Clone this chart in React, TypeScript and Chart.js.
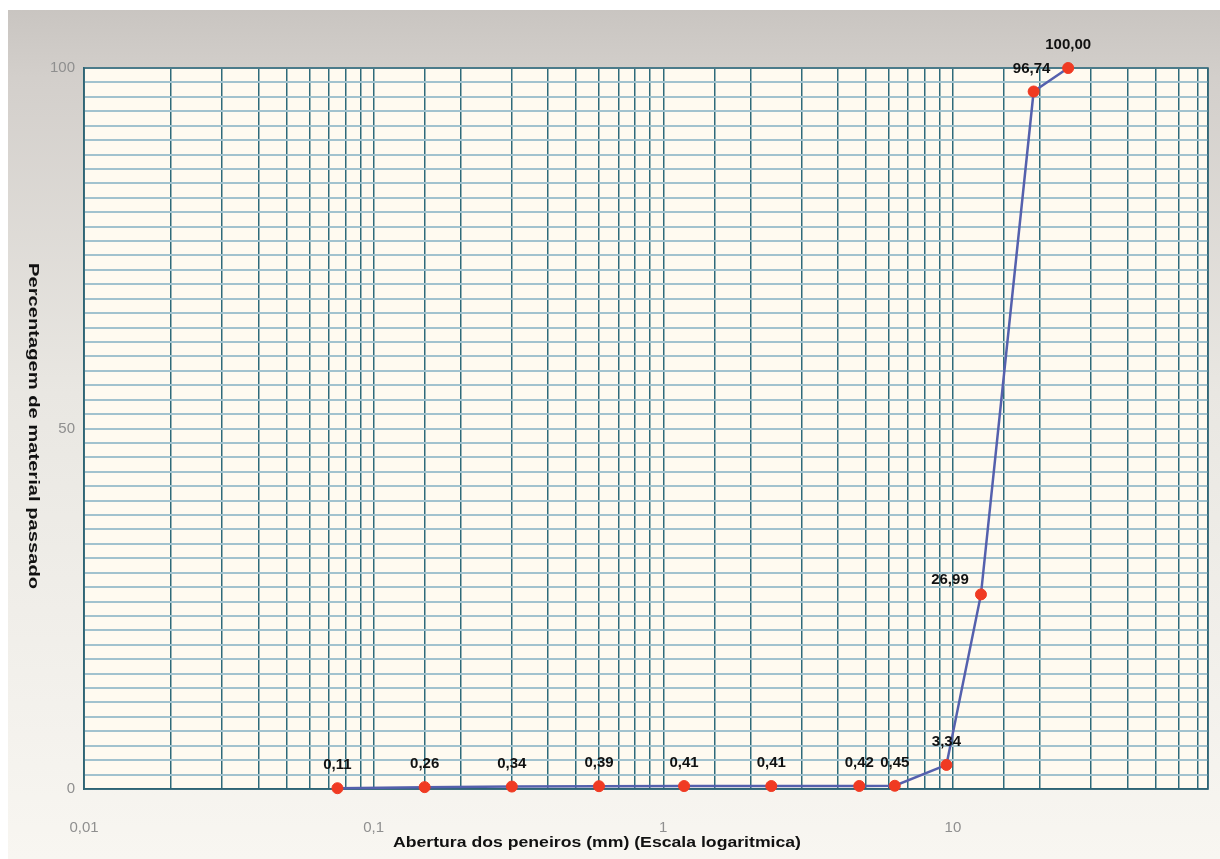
import React, { useEffect, useRef } from 'react';
import { Chart, registerables } from 'chart.js';

Chart.register(...registerables);

// Sieve openings (mm) and percentage of material passing
const sieveSizes = [0.075, 0.15, 0.3, 0.6, 1.18, 2.36, 4.75, 6.3, 9.5, 12.5, 19, 25];
const passing = [0.11, 0.26, 0.34, 0.39, 0.41, 0.41, 0.42, 0.45, 3.34, 26.99, 96.74, 100.0];

// Axis tick labels
const xLabeledTicks = [0.01, 0.1, 1, 10];
const xTickText = ['0,01', '0,1', '1', '10'];
const yLabeledTicks = [0, 50, 100];

const xTitle = 'Abertura dos peneiros (mm) (Escala logaritmica)';
const yTitle = 'Percentagem de material passado';

// label placement (dx, dy) relative to each point
const labelDx = [0, 0, 0, 0, 0, 0, 0, 0, 0, -31, -2, 0];
const labelDy = [-23, -23, -23, -23, -23, -23, -23, -23, -23, -15, -23, -23];

const FONT = '"Liberation Sans", Arial, Helvetica, sans-serif';

function stretchedText(ctx: any, text: string, cx: number, cy: number, targetW: number) {
  const w = ctx.measureText(text).width;
  const s = targetW / w;
  ctx.save();
  ctx.translate(cx, cy);
  ctx.scale(s, 1);
  ctx.fillText(text, 0, 0);
  ctx.restore();
}

const decorPlugin = {
  id: 'decor',
  beforeDraw(chart: any) {
    const { ctx, width, height, chartArea } = chart;
    ctx.save();
    ctx.fillStyle = '#ffffff';
    ctx.fillRect(0, 0, width, height);
    const g = ctx.createLinearGradient(0, 10, 0, height);
    g.addColorStop(0, '#c9c5c1');
    g.addColorStop(0.08, '#d3cfcb');
    g.addColorStop(0.45, '#e9e7e2');
    g.addColorStop(1, '#f8f6f1');
    ctx.fillStyle = g;
    ctx.fillRect(8, 10, width - 8, height - 10);
    ctx.fillStyle = '#fffaf0';
    ctx.fillRect(chartArea.left, chartArea.top, chartArea.right - chartArea.left, chartArea.bottom - chartArea.top);
    ctx.restore();
  },
  beforeDatasetsDraw(chart: any) {
    const { ctx, chartArea } = chart;
    ctx.save();
    ctx.strokeStyle = '#2f6474';
    ctx.lineWidth = 1.5;
    ctx.strokeRect(chartArea.left, chartArea.top, chartArea.right - chartArea.left, chartArea.bottom - chartArea.top);
    ctx.restore();
  },
  afterDatasetsDraw(chart: any) {
    const { ctx } = chart;
    const meta = chart.getDatasetMeta(0);
    ctx.save();
    ctx.font = `bold 15px ${FONT}`;
    ctx.fillStyle = '#111111';
    ctx.textAlign = 'center';
    ctx.textBaseline = 'middle';
    meta.data.forEach((pt: any, i: number) => {
      const txt = passing[i].toFixed(2).replace('.', ',');
      ctx.fillText(txt, pt.x + labelDx[i], pt.y + labelDy[i]);
    });
    ctx.restore();
  },
  afterDraw(chart: any) {
    const { ctx } = chart;
    ctx.save();
    ctx.fillStyle = '#111111';
    ctx.textAlign = 'center';
    ctx.textBaseline = 'middle';
    ctx.font = `bold 15px ${FONT}`;
    stretchedText(ctx, xTitle, 597, 843, 408);
    ctx.translate(33, 426);
    ctx.rotate(Math.PI / 2);
    ctx.font = `bold 15px ${FONT}`;
    stretchedText(ctx, yTitle, 0, 0, 326);
    ctx.restore();
  },
};

export default function App() {
  const ref = useRef<HTMLCanvasElement | null>(null);
  useEffect(() => {
    if (!ref.current) return;
    const points = sieveSizes.map((x, i) => ({ x, y: passing[i] }));
    const chart = new Chart(ref.current, {
      type: 'line',
      data: {
        datasets: [
          {
            data: points,
            borderColor: '#5560ad',
            borderWidth: 2.5,
            pointBackgroundColor: '#f03a22',
            pointBorderColor: '#f03a22',
            pointBorderWidth: 1,
            pointRadius: 5.5,
            tension: 0,
            clip: false,
          },
        ],
      },
      options: {
        responsive: false,
        animation: false,
        layout: { padding: { top: 68, right: 12, bottom: 0, left: 0 } },
        plugins: { legend: { display: false }, tooltip: { enabled: false } },
        scales: {
          x: {
            type: 'logarithmic',
            min: 0.01,
            max: 76,
            grid: { color: '#2f6a7a', lineWidth: 1.5, drawTicks: false },
            border: { display: true, color: '#2f6474', width: 1.5 },
            ticks: {
              autoSkip: false,
              maxRotation: 0,
              padding: 30,
              color: '#8f8f8f',
              font: { family: FONT, size: 15 },
              callback: (v: any) => {
                const n = Number(v);
                const idx = xLabeledTicks.findIndex((t) => Math.abs(t - n) / t < 1e-6);
                return idx >= 0 ? xTickText[idx] : '';
              },
            },
            afterFit: (s: any) => {
              s.height = 70;
              s.paddingLeft = 0;
              s.paddingRight = 0;
            },
          },
          y: {
            min: 0,
            max: 100,
            grid: { color: '#a2c2ce', lineWidth: 2, drawTicks: false },
            border: { display: true, color: '#2f6474', width: 1.5 },
            ticks: {
              stepSize: 2,
              autoSkip: false,
              padding: 9,
              color: '#8f8f8f',
              font: { family: FONT, size: 15 },
              callback: (v: any) => (yLabeledTicks.includes(Number(v)) ? String(v) : ''),
            },
            afterFit: (s: any) => {
              s.width = 84;
              s.paddingTop = 0;
              s.paddingBottom = 0;
            },
          },
        },
      },
      plugins: [decorPlugin],
    });
    return () => chart.destroy();
  }, []);
  return (
    <div style={{ position: 'fixed', left: 0, top: 0, width: 1220, height: 859 }}>
      <canvas ref={ref} width={1220} height={859} style={{ display: 'block' }} />
    </div>
  );
}
